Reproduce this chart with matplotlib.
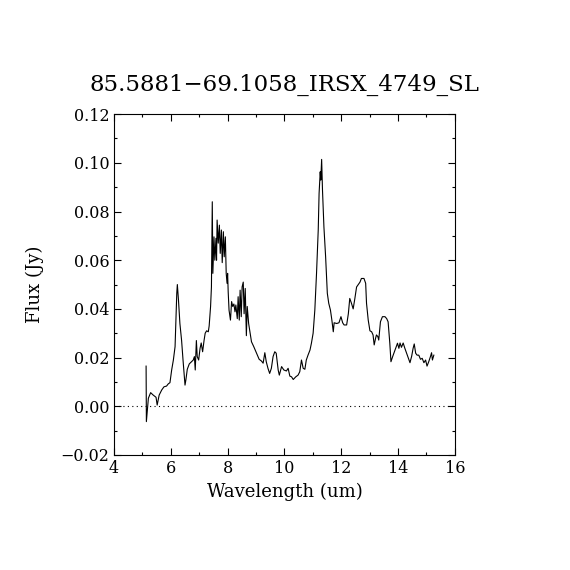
import numpy as np
import matplotlib
matplotlib.use('Agg')
import matplotlib.pyplot as plt
from matplotlib.ticker import MultipleLocator

# Espectro (longitud de onda en um, flujo en Jy)
wavelength = [5.13, 5.14, 5.21, 5.29, 5.38, 5.48, 5.52, 5.59, 5.68, 5.76, 5.85, 5.91, 5.97,
              6.03, 6.09, 6.15, 6.21, 6.23, 6.27, 6.32, 6.38, 6.43, 6.50, 6.53, 6.58, 6.65,
              6.73, 6.79, 6.83, 6.86, 6.90, 6.93, 6.98, 7.03, 7.07, 7.12, 7.17, 7.21, 7.26,
              7.32, 7.35, 7.40, 7.43, 7.46, 7.48, 7.52, 7.55, 7.59, 7.61, 7.63, 7.67, 7.71,
              7.74, 7.78, 7.81, 7.85, 7.88, 7.92, 7.95, 7.98, 8.00, 8.02, 8.05, 8.10, 8.14,
              8.18, 8.22, 8.26, 8.29, 8.34, 8.37, 8.41, 8.44, 8.48, 8.51, 8.55, 8.58, 8.62,
              8.66, 8.69, 8.74, 8.78, 8.84, 8.92, 9.02, 9.11, 9.19, 9.25, 9.31, 9.36, 9.42,
              9.48, 9.54, 9.60, 9.66, 9.71, 9.78, 9.82, 9.90, 9.98, 10.07, 10.13, 10.19,
              10.25, 10.31, 10.40, 10.48, 10.54, 10.60, 10.66, 10.72, 10.77, 10.83, 10.90,
              10.95, 11.01, 11.07, 11.13, 11.19, 11.22, 11.26, 11.28, 11.31, 11.34, 11.39,
              11.45, 11.51, 11.56, 11.62, 11.67, 11.72, 11.75, 11.84, 11.92, 11.99, 12.05,
              12.10, 12.19, 12.25, 12.30, 12.36, 12.42, 12.48, 12.54, 12.60, 12.66, 12.71,
              12.80, 12.86, 12.89, 12.95, 13.01, 13.07, 13.12, 13.16, 13.21, 13.24, 13.29,
              13.32, 13.38, 13.45, 13.54, 13.60, 13.65, 13.71, 13.75, 13.81, 13.86, 13.92,
              13.98, 14.03, 14.07, 14.12, 14.18, 14.24, 14.30, 14.36, 14.42, 14.48, 14.53,
              14.57, 14.62, 14.67, 14.73, 14.79, 14.85, 14.91, 14.97, 15.02, 15.08, 15.14,
              15.18, 15.21, 15.26]
flux = [0.0165, -0.0063, 0.0033, 0.0056, 0.0046, 0.0037, 0.0005, 0.0046, 0.0067, 0.0080,
        0.0083, 0.0092, 0.0097, 0.0149, 0.0190, 0.0245, 0.0464, 0.0500, 0.0436, 0.0340,
        0.0270, 0.0190, 0.0087, 0.0108, 0.0152, 0.0174, 0.0183, 0.0190, 0.0204, 0.0149,
        0.0270, 0.0204, 0.0190, 0.0238, 0.0260, 0.0224, 0.0270, 0.0300, 0.0310, 0.0306,
        0.0330, 0.0410, 0.0490, 0.0840, 0.0546, 0.0696, 0.0600, 0.0690, 0.0600, 0.0765,
        0.0670, 0.0744, 0.0628, 0.0724, 0.0590, 0.0717, 0.0614, 0.0696, 0.0546, 0.0505,
        0.0546, 0.0470, 0.0395, 0.0354, 0.0430, 0.0410, 0.0420, 0.0388, 0.0416, 0.0360,
        0.0450, 0.0354, 0.0477, 0.0368, 0.0490, 0.0510, 0.0380, 0.0484, 0.0290, 0.0410,
        0.0340, 0.0310, 0.0265, 0.0245, 0.0218, 0.0193, 0.0186, 0.0177, 0.0220, 0.0183,
        0.0156, 0.0135, 0.0156, 0.0204, 0.0224, 0.0218, 0.0149, 0.0128, 0.0163, 0.0149,
        0.0145, 0.0156, 0.0124, 0.0121, 0.0110, 0.0121, 0.0128, 0.0142, 0.0190, 0.0156,
        0.0152, 0.0190, 0.0210, 0.0231, 0.0259, 0.0300, 0.0395, 0.0546, 0.0724, 0.0874,
        0.0963, 0.0929, 0.1014, 0.0888, 0.0737, 0.0614, 0.0464, 0.0423, 0.0395, 0.0354,
        0.0306, 0.0343, 0.0340, 0.0343, 0.0368, 0.0343, 0.0334, 0.0334, 0.0380, 0.0443,
        0.0423, 0.0400, 0.0443, 0.0490, 0.0500, 0.0510, 0.0525, 0.0525, 0.0505, 0.0423,
        0.0354, 0.0310, 0.0306, 0.0293, 0.0252, 0.0280, 0.0293, 0.0286, 0.0272, 0.0347,
        0.0368, 0.0368, 0.0360, 0.0347, 0.0259, 0.0183, 0.0204, 0.0220, 0.0238, 0.0259,
        0.0238, 0.0260, 0.0242, 0.0260, 0.0238, 0.0218, 0.0197, 0.0179, 0.0206, 0.0238,
        0.0256, 0.0218, 0.0210, 0.0210, 0.0193, 0.0197, 0.0179, 0.0190, 0.0165, 0.0183,
        0.0204, 0.0220, 0.0190, 0.0210]

titulo = '85.5881\u221269.1058_IRSX_4749_SL'

plt.rcParams['font.family'] = 'DejaVu Serif'

fig = plt.figure(figsize=(5.7, 5.7), dpi=100)
ax = fig.add_axes([0.2, 0.2018, 0.598, 0.598])

ax.plot(wavelength, flux, color='black', lw=0.8)
ax.axhline(0.0, color='black', lw=0.8, ls=(0, (1, 3)))

ax.set_xlim(4, 16)
ax.set_ylim(-0.02, 0.12)
ax.xaxis.set_major_locator(MultipleLocator(2))
ax.xaxis.set_minor_locator(MultipleLocator(1))
ax.yaxis.set_major_locator(MultipleLocator(0.02))
ax.yaxis.set_minor_locator(MultipleLocator(0.01))
ax.yaxis.set_major_formatter(plt.FuncFormatter(lambda v, p: f'{v:.2f}'.replace('-', '\u2212')))

ax.tick_params(which='both', direction='in', top=True, right=True, labelsize=11.5, width=0.8)
ax.tick_params(which='major', length=5)
ax.tick_params(which='minor', length=2.5)
for s in ax.spines.values():
    s.set_linewidth(0.8)

ax.set_xlabel('Wavelength (um)', fontsize=13)
ax.set_ylabel('Flux (Jy)', fontsize=13, labelpad=12)
ax.set_title(titulo, fontsize=16.5, pad=17)

fig.savefig('out.png', dpi=100)
